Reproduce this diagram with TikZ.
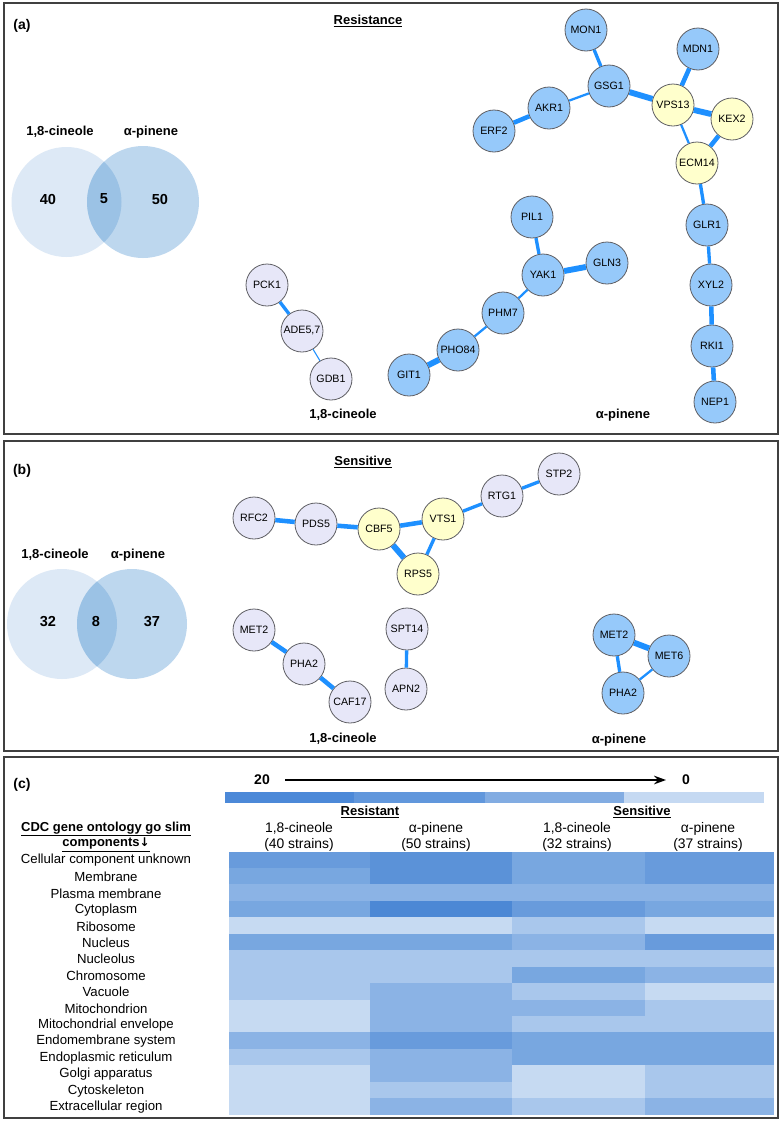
\documentclass[tikz,border=0pt]{standalone}
\usepackage{fontspec}
\setmainfont{Liberation Sans}
\newfontfamily\arrowfont{DejaVu Sans}
\usetikzlibrary{arrows.meta}

\definecolor{geneBlue}{RGB}{150,201,250}
\definecolor{geneLight}{RGB}{231,231,248}
\definecolor{geneYellow}{RGB}{255,255,204}
\definecolor{geneEdge}{RGB}{30,144,255}
\definecolor{geneRim}{RGB}{95,95,100}
\definecolor{vennL}{RGB}{221,233,246}
\definecolor{vennR}{RGB}{189,215,238}
\definecolor{vennM}{RGB}{155,194,229}
\definecolor{frameGray}{RGB}{64,64,64}
\definecolor{hm0}{RGB}{76,136,213}
\definecolor{hmA}{RGB}{91,146,216}
\definecolor{hmB}{RGB}{104,155,220}
\definecolor{hmC}{RGB}{120,167,224}
\definecolor{hmD}{RGB}{139,179,229}
\definecolor{hmE}{RGB}{169,199,236}
\definecolor{hmF}{RGB}{198,218,242}
\definecolor{barA}{RGB}{76,137,216}
\definecolor{barB}{RGB}{97,151,220}
\definecolor{barC}{RGB}{130,172,226}
\definecolor{barD}{RGB}{197,217,242}

\tikzset{every picture/.style={line width=0.75pt}}
\tikzset{
	gene/.style={circle, draw=geneRim, line width=0.6pt, minimum size=31.5pt, inner sep=0pt, font=\fontsize{8}{9}\selectfont},
	blue gene/.style={gene, fill=geneBlue},
	pale gene/.style={gene, fill=geneLight},
	core gene/.style={gene, fill=geneYellow},
	link1/.style={draw=geneEdge, line width=0.8pt},
	link2/.style={draw=geneEdge, line width=1.7pt},
	link3/.style={draw=geneEdge, line width=2.5pt},
	link4/.style={draw=geneEdge, line width=3.4pt},
	link5/.style={draw=geneEdge, line width=4.4pt},
	panel/.style={draw=frameGray, line width=1.5pt},
	tag/.style={font=\fontsize{10.5}{12}\selectfont\bfseries},
	heading/.style={font=\fontsize{9.75}{11}\selectfont\bfseries},
	count/.style={font=\fontsize{10.9}{12}\selectfont\bfseries},
	rowlabel/.style={font=\fontsize{9.9}{11}\selectfont, inner sep=0pt},
	colhead/.style={font=\fontsize{10.4}{12}\selectfont, align=center, inner sep=0pt}
}

\begin{document}
\begin{tikzpicture}[x=0.75pt,y=0.75pt,yscale=-1,xscale=1]
	\useasboundingbox (0,0) rectangle (782,1125);
	\fill[white] (0,0) rectangle (782,1125);

	%Shape: Rectangle (panels)
	\draw[panel] (4,3) rectangle (778,434);
	\draw[panel] (4,441) rectangle (778,751);
	\draw[panel] (4,757) rectangle (778,1118);

	% ---------------- (a) Resistance ----------------
	% Text Node
	\node[tag] (tagA) at (22,26) {(a)};
	% Text Node
	\node[heading] (titleA) at (368,21) {\underline{Resistance}};

	%Shape: Circle (venn a)
	\fill[vennL] (66.5,202) circle[radius=55];
	\fill[vennR] (143,202) circle[radius=56];
	\begin{scope}
		\clip (66.5,202) circle[radius=55];
		\fill[vennM] (143,202) circle[radius=56];
	\end{scope}
	\node[heading] (vennAl) at (60,132) {1,8-cineole};
	\node[heading] (vennAr) at (151,132) {α-pinene};
	\node[count] (cntA1) at (48,199) {40};
	\node[count] (cntA2) at (104,199) {5};
	\node[count] (cntA3) at (160,199) {50};

	% genes, alpha-pinene resistant
	\node[blue gene] (mon1) at (586,30) {MON1};
	\node[blue gene] (mdn1) at (698,49) {MDN1};
	\node[blue gene] (gsg1) at (609,86) {GSG1};
	\node[blue gene] (akr1) at (549,108) {AKR1};
	\node[blue gene] (erf2) at (494,131) {ERF2};
	\node[core gene] (vps13) at (673,105) {VPS13};
	\node[core gene] (kex2) at (732,119) {KEX2};
	\node[core gene] (ecm14) at (697,163) {ECM14};
	\node[blue gene] (glr1) at (707,225) {GLR1};
	\node[blue gene] (xyl2) at (711,285) {XYL2};
	\node[blue gene] (rki1) at (712,346) {RKI1};
	\node[blue gene] (nep1) at (715,402) {NEP1};
	\node[blue gene] (pil1) at (532,217) {PIL1};
	\node[blue gene] (gln3) at (607,263) {GLN3};
	\node[blue gene] (yak1) at (543,275) {YAK1};
	\node[blue gene] (phm7) at (503,313) {PHM7};
	\node[blue gene] (pho84) at (458,350) {PHO84};
	\node[blue gene] (git1) at (409,375) {GIT1};
	% genes, 1,8-cineole resistant
	\node[pale gene] (pck1) at (267,285) {PCK1};
	\node[pale gene] (ade57) at (302,331) {ADE5,7};
	\node[pale gene] (gdb1) at (331,379) {GDB1};

	%Straight Lines
	\draw[link3] (mon1) -- (gsg1);
	\draw[link4] (mdn1) -- (vps13);
	\draw[link5] (gsg1) -- (vps13);
	\draw[link2] (gsg1) -- (akr1);
	\draw[link4] (akr1) -- (erf2);
	\draw[link5] (vps13) -- (kex2);
	\draw[link2] (vps13) -- (ecm14);
	\draw[link4] (kex2) -- (ecm14);
	\draw[link3] (ecm14) -- (glr1);
	\draw[link3] (glr1) -- (xyl2);
	\draw[link4] (xyl2) -- (rki1);
	\draw[link4] (rki1) -- (nep1);
	\draw[link3] (pil1) -- (yak1);
	\draw[link5] (yak1) -- (gln3);
	\draw[link2] (yak1) -- (phm7);
	\draw[link2] (phm7) -- (pho84);
	\draw[link5] (pho84) -- (git1);
	\draw[link3] (pck1) -- (ade57);
	\draw[link1] (ade57) -- (gdb1);

	% Text Node
	\node[heading] (netAl) at (343,415) {1,8-cineole};
	\node[heading] (netAr) at (623,415) {α-pinene};

	% ---------------- (b) Sensitive ----------------
	\node[tag] (tagB) at (22,471) {(b)};
	\node[heading] (titleB) at (363,462) {\underline{Sensitive}};

	%Shape: Circle (venn b)
	\fill[vennL] (62,624) circle[radius=55];
	\fill[vennR] (132,624) circle[radius=55];
	\begin{scope}
		\clip (62,624) circle[radius=55];
		\fill[vennM] (132,624) circle[radius=55];
	\end{scope}
	\node[heading] (vennBl) at (55,555) {1,8-cineole};
	\node[heading] (vennBr) at (138,555) {α-pinene};
	\node[count] (cntB1) at (48,621) {32};
	\node[count] (cntB2) at (96,621) {8};
	\node[count] (cntB3) at (152,621) {37};

	\node[pale gene] (rfc2) at (254,518) {RFC2};
	\node[pale gene] (pds5) at (316,524) {PDS5};
	\node[core gene] (cbf5) at (379,529) {CBF5};
	\node[core gene] (vts1) at (443,519) {VTS1};
	\node[core gene] (rps5) at (418,574) {RPS5};
	\node[pale gene] (rtg1) at (502,496) {RTG1};
	\node[pale gene] (stp2) at (559,474) {STP2};
	\node[pale gene] (met2c) at (254,630) {MET2};
	\node[pale gene] (pha2c) at (304,664) {PHA2};
	\node[pale gene] (caf17) at (350,702) {CAF17};
	\node[pale gene] (spt14) at (407,629) {SPT14};
	\node[pale gene] (apn2) at (406,689) {APN2};
	\node[blue gene] (met2p) at (614,635) {MET2};
	\node[blue gene] (met6p) at (669,656) {MET6};
	\node[blue gene] (pha2p) at (623,693) {PHA2};

	%Straight Lines
	\draw[link4] (rfc2) -- (pds5);
	\draw[link4] (pds5) -- (cbf5);
	\draw[link4] (cbf5) -- (vts1);
	\draw[link5] (cbf5) -- (rps5);
	\draw[link3] (vts1) -- (rps5);
	\draw[link3] (vts1) -- (rtg1);
	\draw[link3] (rtg1) -- (stp2);
	\draw[link4] (met2c) -- (pha2c);
	\draw[link4] (pha2c) -- (caf17);
	\draw[link3] (spt14) -- (apn2);
	\draw[link5] (met2p) -- (met6p);
	\draw[link3] (met2p) -- (pha2p);
	\draw[link2] (pha2p) -- (met6p);

	\node[heading] (netBl) at (343,739) {1,8-cineole};
	\node[heading] (netBr) at (619,740) {α-pinene};

	% ---------------- (c) GO slim heat map ----------------
	\node[tag] (tagC) at (22,785) {(c)};
	\node[tag] (scaleHi) at (262,780) {20};
	\node[tag] (scaleLo) at (686,780) {0};
	\coordinate (arrL) at (285,780);
	\coordinate (arrR) at (666,780);
	\draw[line width=1.1pt, -{Stealth[length=9pt,width=6.5pt]}] (arrL) -- (arrR);

	%Shape: Rectangle (colour key)
	\fill[barA] (225,792) rectangle (354.5,803);
	\fill[barB] (354,792) rectangle (485.5,803);
	\fill[barC] (485,792) rectangle (624.5,803);
	\fill[barD] (624,792) rectangle (764,803);

	\node[heading] (grpRes) at (370,812) {\underline{Resistant}};
	\node[heading] (grpSen) at (642,812) {\underline{Sensitive}};
	\node[colhead] (col1) at (299,837) {1,8-cineole\\(40 strains)};
	\node[colhead] (col2) at (436,837) {α-pinene\\(50 strains)};
	\node[colhead] (col3) at (577,837) {1,8-cineole\\(32 strains)};
	\node[colhead] (col4) at (708,837) {α-pinene\\(37 strains)};
	\node[heading] (goHead) at (106,829) {\underline{CDC gene ontology go slim}};
	\node[heading] (goSub) at (106,845) {\underline{components{\arrowfont\fontsize{9}{10}\selectfont ↓}}};

	\foreach \i/\lab/\ca/\cb/\cc/\cd in {
		0/Cellular component unknown/hmB/hmA/hmC/hmB,
		1/Membrane/hmC/hmA/hmC/hmB,
		2/Plasma membrane/hmD/hmD/hmD/hmD,
		3/Cytoplasm/hmC/hm0/hmB/hmC,
		4/Ribosome/hmF/hmF/hmE/hmF,
		5/Nucleus/hmC/hmC/hmD/hmB,
		6/Nucleolus/hmE/hmE/hmE/hmE,
		7/Chromosome/hmE/hmE/hmC/hmD,
		8/Vacuole/hmE/hmD/hmE/hmF,
		9/Mitochondrion/hmF/hmD/hmD/hmE,
		10/Mitochondrial envelope/hmF/hmD/hmE/hmE,
		11/Endomembrane system/hmD/hmB/hmC/hmC,
		12/Endoplasmic reticulum/hmE/hmD/hmC/hmC,
		13/Golgi apparatus/hmF/hmD/hmF/hmE,
		14/Cytoskeleton/hmF/hmE/hmF/hmE,
		15/Extracellular region/hmF/hmD/hmE/hmD} {
		\fill[\ca] (229,{851.5+16.45*\i}) rectangle (370.5,{868.3+16.45*\i});
		\fill[\cb] (370,{851.5+16.45*\i}) rectangle (512.5,{868.3+16.45*\i});
		\fill[\cc] (512,{851.5+16.45*\i}) rectangle (645.5,{868.3+16.45*\i});
		\fill[\cd] (645,{851.5+16.45*\i}) rectangle (774,{868.3+16.45*\i});
		\node[rowlabel] (row\i) at (106,{860.5+16.45*\i}) {\lab};
	}
\end{tikzpicture}
\end{document}
